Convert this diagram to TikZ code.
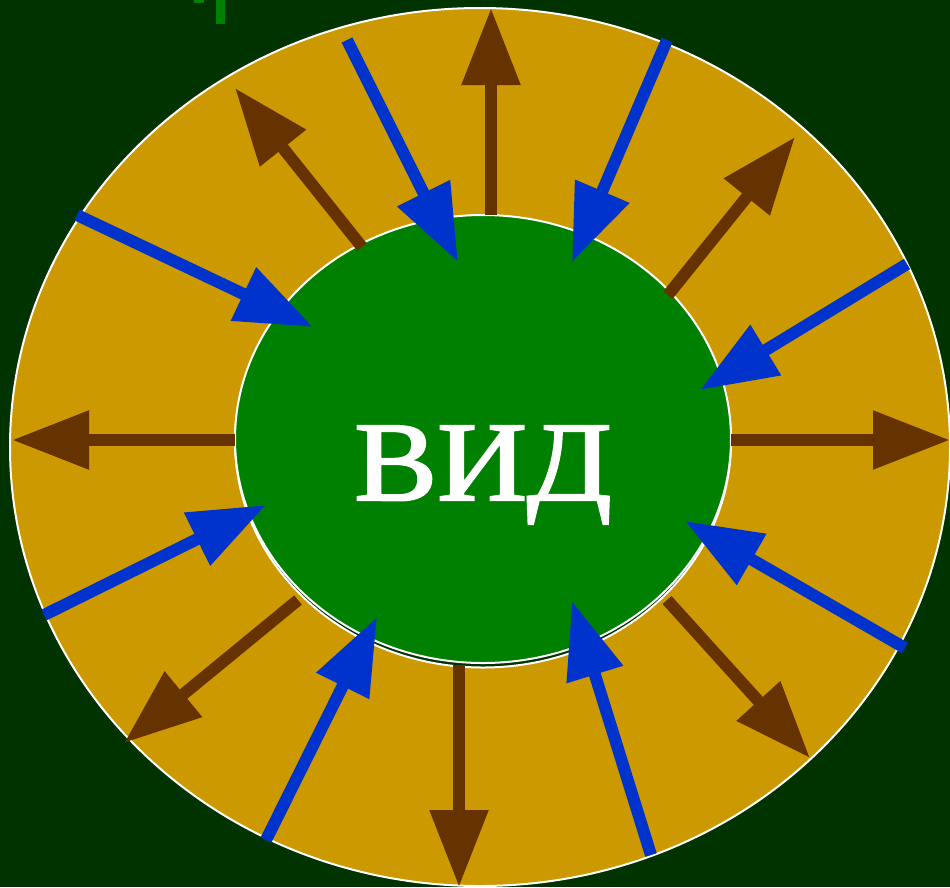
\documentclass[tikz,border=0pt]{standalone}
\usepackage{fontspec}
\newfontfamily\vidfont[FakeBold=2]{Liberation Serif}
\usetikzlibrary{arrows.meta}
\definecolor{bgdark}{HTML}{003300}
\definecolor{gold}{HTML}{CC9900}
\definecolor{ingreen}{HTML}{008000}
\definecolor{brownar}{HTML}{663300}
\definecolor{bluear}{HTML}{0033CC}
\tikzset{
  outarrow/.style={draw=brownar, line width=12pt, -{Triangle[length=77pt,width=56pt]}},
  inarrow/.style={draw=bluear, line width=12pt, -{Triangle[length=77pt,width=56pt]}},
  rim/.style={draw=white, line width=2pt}
}
\begin{document}
\begin{tikzpicture}[x=1pt,y=-1pt]
\useasboundingbox (0,0) rectangle (950,887);
\fill[bgdark] (0,0) rectangle (950,887);
% small marks top-left
\fill[ingreen] (194,0) rectangle (204,3);
\fill[ingreen] (216,0) rectangle (225,24);
% outer ring
\path[fill=gold, rim] (480,447) ellipse [x radius=470, y radius=439];
% inner disc (with second rim)
\path[fill=bgdark, rim] (483,441.5) ellipse [x radius=248, y radius=226];
\path[fill=ingreen, rim] (483,439) ellipse [x radius=248, y radius=224];
\node[text=white, font=\vidfont\fontsize{113}{113}\selectfont, anchor=base, inner sep=0pt] (vid) at (483,500) {\scalebox{1.1}[1]{ВИД}};
% brown outward arrows
\coordinate (o1a) at (491,215); \coordinate (o1b) at (491,8);
\coordinate (o2a) at (362,247); \coordinate (o2b) at (235,88);
\coordinate (o3a) at (668,295); \coordinate (o3b) at (795,137);
\coordinate (o4a) at (731,440); \coordinate (o4b) at (950,440);
\coordinate (o5a) at (235,440); \coordinate (o5b) at (12,440);
\coordinate (o6a) at (298,600); \coordinate (o6b) at (124,743);
\coordinate (o7a) at (459,665); \coordinate (o7b) at (459,887);
\coordinate (o8a) at (667,600); \coordinate (o8b) at (810,758);
\foreach \i in {1,...,8} { \draw[outarrow] (o\i a) -- (o\i b); }
% blue inward arrows
\coordinate (i1a) at (347,40);  \coordinate (i1b) at (458,262);
\coordinate (i2a) at (667,40);  \coordinate (i2b) at (572,262);
\coordinate (i3a) at (77,215);  \coordinate (i3b) at (313,327);
\coordinate (i4a) at (907,264); \coordinate (i4b) at (700,390);
\coordinate (i5a) at (44,615);  \coordinate (i5b) at (266,505);
\coordinate (i6a) at (905,648); \coordinate (i6b) at (685,521);
\coordinate (i7a) at (266,840); \coordinate (i7b) at (377,617);
\coordinate (i8a) at (651,855); \coordinate (i8b) at (572,601);
\foreach \i in {1,...,8} { \draw[inarrow] (i\i a) -- (i\i b); }
\end{tikzpicture}
\end{document}
